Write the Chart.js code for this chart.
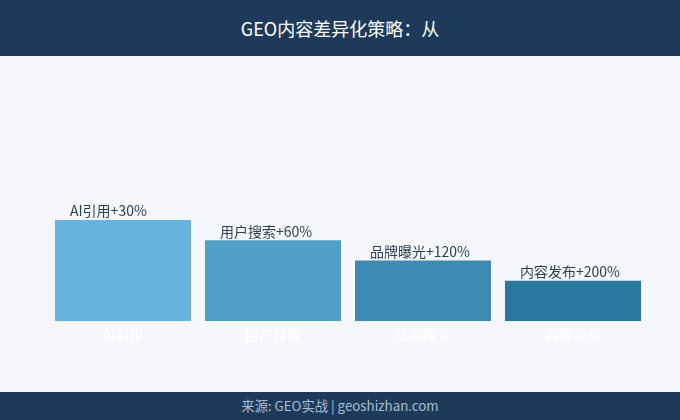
<!DOCTYPE html>
<html>
<head>
<meta charset="utf-8">
<script src="https://cdn.jsdelivr.net/npm/chart.js@4"></script>
<style>
html,body{margin:0;padding:0;width:680px;height:420px;overflow:hidden;background:#f5f7fc;font-family:"Noto Sans CJK SC","Noto Sans",sans-serif;}
#hdr{position:absolute;left:0;top:0;width:680px;height:56px;background:#1e3a5a;color:#ffffff;font-size:18px;line-height:56px;text-align:center;}
#ftr{position:absolute;left:0;top:392px;width:680px;height:28px;background:#1e3a5a;color:#a9bdd2;font-size:13.3px;line-height:28px;text-align:center;}
#wrap{position:absolute;left:0;top:56px;width:680px;height:336px;}
</style>
</head>
<body>
<div id="hdr">GEO内容差异化策略：从</div>
<div id="wrap"><canvas id="c"></canvas></div>
<div id="ftr">来源: GEO实战 | geoshizhan.com</div>
<script>
const categories = ["AI引用", "用户搜索", "品牌曝光", "内容发布"];
const values = [100, 80, 60, 40];
const valueLabels = ["AI引用+30%", "用户搜索+60%", "品牌曝光+120%", "内容发布+200%"];
const barColors = ["#66b3db", "#509fc7", "#3d8bb3", "#2a789f"];

const labelPlugin = {
  id: 'valueLabels',
  afterDatasetsDraw(chart) {
    const ctx = chart.ctx;
    const meta = chart.getDatasetMeta(0);
    ctx.save();
    ctx.font = '14px "Noto Sans CJK SC", "Noto Sans", sans-serif';
    ctx.fillStyle = '#2b3f57';
    ctx.textAlign = 'left';
    ctx.textBaseline = 'middle';
    meta.data.forEach((bar, i) => {
      const left = bar.x - bar.width / 2;
      ctx.fillText(valueLabels[i], left + 15, bar.y - 9);
    });
    ctx.restore();
  }
};

new Chart(document.getElementById('c'), {
  type: 'bar',
  data: {
    labels: categories,
    datasets: [{
      data: values,
      backgroundColor: barColors,
      borderWidth: 0,
      categoryPercentage: 1,
      barPercentage: 136/150
    }]
  },
  options: {
    responsive: true,
    maintainAspectRatio: false,
    animation: false,
    layout: { padding: { left: 48, right: 32, top: 12.5, bottom: 44 } },
    plugins: { legend: { display: false }, tooltip: { enabled: false }, title: { display: false } },
    scales: {
      x: {
        grid: { display: false, drawTicks: false },
        border: { display: false },
        ticks: { color: '#ffffff', padding: 5, font: { size: 14, family: '"Noto Sans CJK SC", "Noto Sans", sans-serif' } }
      },
      y: {
        display: false,
        min: 0,
        max: 250
      }
    }
  },
  plugins: [labelPlugin]
});
</script>
</body>
</html>
